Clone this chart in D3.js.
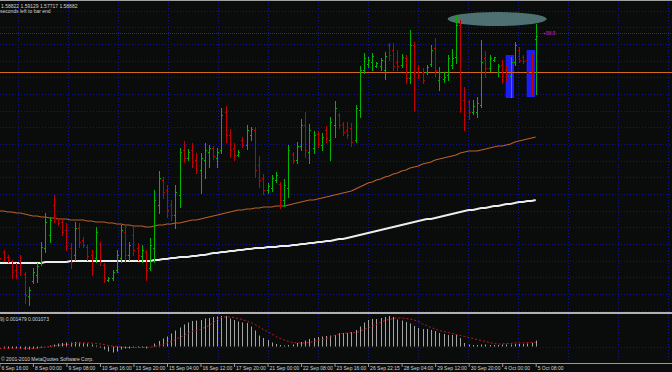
<!DOCTYPE html>
<meta charset="utf-8">
<style>
body { margin: 0; background: #0a0b0b; }
svg { display: block; }
text { font-family: "Liberation Sans", Arial, sans-serif; font-size: 5px; fill: #d4d4d4; }
</style>
<body>
<script src="https://cdn.jsdelivr.net/npm/d3@7/dist/d3.min.js"></script>
<script>

// H4 bars, one entry per bar (oldest first)
var opens = [
  1.5460, 1.5456, 1.5446, 1.5438, 1.5420, 1.5436, 1.5412, 1.5368, 1.5398, 1.5410,
  1.5436, 1.5464, 1.5490, 1.5550, 1.5522, 1.5516, 1.5500, 1.5464, 1.5450, 1.5504,
  1.5480, 1.5466, 1.5450, 1.5444, 1.5472, 1.5430, 1.5400, 1.5404, 1.5420, 1.5444,
  1.5496, 1.5450, 1.5490, 1.5464, 1.5448, 1.5456, 1.5424, 1.5464, 1.5550, 1.5600,
  1.5580, 1.5550, 1.5530, 1.5570, 1.5660, 1.5644, 1.5660, 1.5640, 1.5620, 1.5640,
  1.5656, 1.5664, 1.5644, 1.5660, 1.5736, 1.5690, 1.5664, 1.5650, 1.5680, 1.5670,
  1.5690, 1.5700, 1.5630, 1.5604, 1.5580, 1.5584, 1.5600, 1.5592, 1.5560, 1.5584,
  1.5652, 1.5640, 1.5668, 1.5710, 1.5656, 1.5664, 1.5692, 1.5670, 1.5700, 1.5680,
  1.5710, 1.5730, 1.5712, 1.5700, 1.5704, 1.5680, 1.5740, 1.5820, 1.5832, 1.5836,
  1.5828, 1.5828, 1.5820, 1.5870, 1.5860, 1.5836, 1.5830, 1.5844, 1.5804, 1.5870,
  1.5824, 1.5816, 1.5816, 1.5832, 1.5864, 1.5800, 1.5802, 1.5810, 1.5830, 1.5846,
  1.5910, 1.5760, 1.5756, 1.5736, 1.5736, 1.5750, 1.5844, 1.5824, 1.5840, 1.5816,
  1.5830, 1.5820, 1.5808, 1.5836, 1.5860, 1.5846, 1.5840, 1.5840, 1.58822
];
var highs = [
  1.5464, 1.5460, 1.5450, 1.5440, 1.5434, 1.5450, 1.5416, 1.5386, 1.5424, 1.5434,
  1.5476, 1.5534, 1.5526, 1.5570, 1.5524, 1.5520, 1.5514, 1.5474, 1.5516, 1.5514,
  1.5486, 1.5470, 1.5460, 1.5506, 1.5476, 1.5434, 1.5406, 1.5420, 1.5460, 1.5510,
  1.5510, 1.5476, 1.5506, 1.5474, 1.5470, 1.5460, 1.5484, 1.5580, 1.5618, 1.5606,
  1.5590, 1.5560, 1.5590, 1.5664, 1.5678, 1.5662, 1.5674, 1.5654, 1.5654, 1.5674,
  1.5670, 1.5668, 1.5664, 1.5744, 1.5748, 1.5702, 1.5674, 1.5660, 1.5686, 1.5710,
  1.5706, 1.5706, 1.5648, 1.5612, 1.5594, 1.5610, 1.5616, 1.5596, 1.5602, 1.5670,
  1.5656, 1.5676, 1.5722, 1.5736, 1.5712, 1.5698, 1.5698, 1.5694, 1.5708, 1.5726,
  1.5758, 1.5734, 1.5716, 1.5716, 1.5714, 1.5750, 1.5828, 1.5854, 1.5846, 1.5854,
  1.5836, 1.5844, 1.5856, 1.5874, 1.5874, 1.5860, 1.5852, 1.5850, 1.5900, 1.5876,
  1.5830, 1.5824, 1.5830, 1.5870, 1.5884, 1.5826, 1.5816, 1.5850, 1.5862, 1.5928,
  1.5920, 1.5786, 1.5760, 1.5760, 1.5766, 1.5880, 1.5858, 1.5850, 1.5846, 1.5832,
  1.5840, 1.5830, 1.5846, 1.5876, 1.5866, 1.5850, 1.5846, 1.5854, 1.59129
];
var lows = [
  1.5436, 1.5440, 1.5436, 1.5404, 1.5404, 1.5410, 1.5354, 1.5350, 1.5394, 1.5396,
  1.5430, 1.5456, 1.5476, 1.5516, 1.5510, 1.5490, 1.5460, 1.5424, 1.5440, 1.5466,
  1.5466, 1.5440, 1.5410, 1.5436, 1.5430, 1.5396, 1.5398, 1.5400, 1.5416, 1.5436,
  1.5436, 1.5440, 1.5450, 1.5440, 1.5436, 1.5400, 1.5420, 1.5436, 1.5534, 1.5564,
  1.5526, 1.5520, 1.5504, 1.5546, 1.5636, 1.5640, 1.5626, 1.5614, 1.5574, 1.5604,
  1.5626, 1.5642, 1.5626, 1.5654, 1.5676, 1.5646, 1.5640, 1.5648, 1.5666, 1.5662,
  1.5680, 1.5606, 1.5586, 1.5572, 1.5574, 1.5578, 1.5596, 1.5544, 1.5548, 1.5566,
  1.5634, 1.5634, 1.5660, 1.5646, 1.5634, 1.5654, 1.5666, 1.5660, 1.5676, 1.5640,
  1.5686, 1.5704, 1.5690, 1.5684, 1.5668, 1.5676, 1.5726, 1.5814, 1.5826, 1.5820,
  1.5826, 1.5820, 1.5802, 1.5840, 1.5820, 1.5820, 1.5826, 1.5794, 1.5794, 1.5738,
  1.5804, 1.5794, 1.5812, 1.5828, 1.5808, 1.5780, 1.5796, 1.5800, 1.5824, 1.5834,
  1.5736, 1.5700, 1.5722, 1.5732, 1.5726, 1.5746, 1.5806, 1.5818, 1.5838, 1.5808,
  1.5794, 1.5800, 1.5766, 1.5830, 1.5836, 1.5834, 1.5800, 1.5770, 1.57717
];
var closes = [
  1.5444, 1.5446, 1.5440, 1.5416, 1.5408, 1.5420, 1.5370, 1.5380, 1.5416, 1.5428,
  1.5466, 1.5516, 1.5520, 1.5524, 1.5514, 1.5496, 1.5468, 1.5436, 1.5504, 1.5476,
  1.5470, 1.5448, 1.5420, 1.5496, 1.5436, 1.5404, 1.5404, 1.5416, 1.5450, 1.5500,
  1.5450, 1.5470, 1.5460, 1.5450, 1.5460, 1.5420, 1.5470, 1.5560, 1.5604, 1.5576,
  1.5540, 1.5530, 1.5576, 1.5656, 1.5644, 1.5656, 1.5636, 1.5620, 1.5644, 1.5660,
  1.5664, 1.5648, 1.5656, 1.5730, 1.5690, 1.5660, 1.5650, 1.5656, 1.5670, 1.5700,
  1.5702, 1.5620, 1.5600, 1.5580, 1.5588, 1.5604, 1.5610, 1.5560, 1.5590, 1.5660,
  1.5640, 1.5668, 1.5710, 1.5660, 1.5700, 1.5690, 1.5672, 1.5686, 1.5684, 1.5716,
  1.5744, 1.5710, 1.5696, 1.5690, 1.5676, 1.5744, 1.5820, 1.5844, 1.5840, 1.5848,
  1.5834, 1.5840, 1.5848, 1.5850, 1.5828, 1.5828, 1.5846, 1.5804, 1.5870, 1.5816,
  1.5810, 1.5800, 1.5826, 1.5860, 1.5820, 1.5816, 1.5806, 1.5844, 1.5844, 1.5910,
  1.5744, 1.5730, 1.5736, 1.5748, 1.5754, 1.5836, 1.5824, 1.5844, 1.5846, 1.5828,
  1.5808, 1.5808, 1.5836, 1.5870, 1.5840, 1.5838, 1.5816, 1.5816, 1.58882
];

// moving averages (orange = faster, white = slower)
var maOrange = [
  1.5538, 1.5538, 1.5536, 1.5536, 1.5534, 1.5534, 1.5532, 1.5530, 1.5528, 1.5528,
  1.5526, 1.5526, 1.5524, 1.5524, 1.5522, 1.5522, 1.5522, 1.5520, 1.5520, 1.5520,
  1.5520, 1.5518, 1.5518, 1.5516, 1.5516, 1.5516, 1.5514, 1.5514, 1.5512, 1.5512,
  1.5510, 1.5510, 1.5508, 1.5508, 1.5508, 1.5506, 1.5506, 1.5508, 1.5510, 1.5510,
  1.5512, 1.5512, 1.5514, 1.5514, 1.5516, 1.5518, 1.5520, 1.5520, 1.5522, 1.5524,
  1.5526, 1.5528, 1.5530, 1.5532, 1.5534, 1.5536, 1.5538, 1.5540, 1.5540, 1.5542,
  1.5542, 1.5544, 1.5544, 1.5546, 1.5546, 1.5546, 1.5548, 1.5548, 1.5548, 1.5550,
  1.5552, 1.5554, 1.5556, 1.5558, 1.5560, 1.5560, 1.5562, 1.5564, 1.5566, 1.5568,
  1.5570, 1.5572, 1.5574, 1.5576, 1.5578, 1.5582, 1.5586, 1.5590, 1.5594, 1.5596,
  1.5600, 1.5602, 1.5606, 1.5608, 1.5612, 1.5614, 1.5618, 1.5620, 1.5624, 1.5626,
  1.5628, 1.5632, 1.5634, 1.5636, 1.5640, 1.5642, 1.5644, 1.5646, 1.5648, 1.5650,
  1.5654, 1.5656, 1.5658, 1.5658, 1.5658, 1.5660, 1.5662, 1.5664, 1.5666, 1.5668,
  1.5668, 1.5670, 1.5672, 1.5676, 1.5678, 1.5680, 1.5682, 1.5684, 1.5686
];
var maWhite = [
  1.5434, 1.5434, 1.5434, 1.5434, 1.5434, 1.5434, 1.5434, 1.5434, 1.5434, 1.5434,
  1.5434, 1.5436, 1.5436, 1.5436, 1.5436, 1.5436, 1.5436, 1.5438, 1.5438, 1.5438,
  1.5438, 1.5438, 1.5438, 1.5438, 1.5438, 1.5438, 1.5438, 1.5438, 1.5438, 1.5438,
  1.5438, 1.5438, 1.5438, 1.5438, 1.5438, 1.5438, 1.5438, 1.5440, 1.5440, 1.5442,
  1.5442, 1.5444, 1.5444, 1.5446, 1.5446, 1.5446, 1.5448, 1.5448, 1.5450, 1.5450,
  1.5452, 1.5454, 1.5454, 1.5456, 1.5456, 1.5458, 1.5458, 1.5460, 1.5460, 1.5462,
  1.5462, 1.5464, 1.5464, 1.5464, 1.5466, 1.5466, 1.5466, 1.5468, 1.5468, 1.5468,
  1.5470, 1.5470, 1.5472, 1.5472, 1.5474, 1.5474, 1.5476, 1.5476, 1.5478, 1.5478,
  1.5480, 1.5482, 1.5482, 1.5484, 1.5486, 1.5488, 1.5490, 1.5492, 1.5494, 1.5496,
  1.5498, 1.5500, 1.5502, 1.5504, 1.5506, 1.5508, 1.5510, 1.5512, 1.5514, 1.5516,
  1.5518, 1.5520, 1.5522, 1.5522, 1.5524, 1.5526, 1.5528, 1.5530, 1.5532, 1.5534,
  1.5536, 1.5538, 1.5540, 1.5540, 1.5542, 1.5544, 1.5544, 1.5546, 1.5548, 1.5548,
  1.5550, 1.5552, 1.5552, 1.5554, 1.5556, 1.5556, 1.5558, 1.5558, 1.5560
];

// MACD(12,26,9): main (histogram) and signal (dotted)
var macdMain = [
  -0.00025, -0.00025, -0.00038, -0.0005, -0.0005, -0.00063, -0.00075, -0.00075, -0.00063, -0.0005,
  -0.00025, 0, 0.00025, 0.0005, 0.00075, 0.00088, 0.001, 0.001, 0.00113, 0.001,
  0.00088, 0.00075, 0.0005, 0.00025, -0.00025, -0.00075, -0.00125, -0.0015, -0.00125, -0.00075,
  -0.0005, -0.0005, -0.00025, -0.00025, -0.00025, -0.0005, 0, 0.00075, 0.00138, 0.002,
  0.0025, 0.00325, 0.004, 0.00475, 0.0055, 0.006, 0.00638, 0.0065, 0.00663, 0.007,
  0.00713, 0.00738, 0.0075, 0.00763, 0.00763, 0.007, 0.00663, 0.00625, 0.006, 0.00588,
  0.005, 0.004, 0.00275, 0.00213, 0.00163, 0.001, 0.00063, 0.00038, 0.00025, 0.00038,
  0.0005, 0.00088, 0.00113, 0.0015, 0.00188, 0.00213, 0.00238, 0.0025, 0.00263, 0.00275,
  0.00288, 0.00338, 0.00338, 0.00338, 0.00363, 0.00413, 0.005, 0.006, 0.00663, 0.00688,
  0.00688, 0.00713, 0.00738, 0.00763, 0.00738, 0.00675, 0.0065, 0.00613, 0.00575, 0.00513,
  0.00463, 0.00438, 0.00438, 0.00413, 0.00388, 0.00338, 0.00313, 0.00288, 0.00288, 0.00288,
  0.00213, 0.00088, 0.0005, 0.00038, 0.00038, 0.0005, 0.0005, 0.00038, 0.00038, 0.00038,
  0.0005, 0.0005, 0.0005, 0.00063, 0.00063, 0.00063, 0.00075, 0.00088, 0.001479
];
var macdSignal = [
  -0.0005, -0.0005, -0.0005, -0.0005, -0.0005, -0.0005, -0.0005, -0.0005, -0.0005, -0.00038,
  -0.00025, -0.00013, 0, 0.00013, 0.00025, 0.00038, 0.0005, 0.00063, 0.00075, 0.00088,
  0.00088, 0.00088, 0.00088, 0.00075, 0.00063, 0.0005, 0.00025, 0.00013, 0, -0.00013,
  -0.00025, -0.00025, -0.00025, -0.00025, -0.00025, -0.00025, -0.00013, 0, 0.00025, 0.0005,
  0.00088, 0.00125, 0.00175, 0.00225, 0.00275, 0.00325, 0.00375, 0.004, 0.00425, 0.00475,
  0.00525, 0.006, 0.00675, 0.00725, 0.00738, 0.00738, 0.00725, 0.007, 0.00675, 0.00638,
  0.006, 0.0055, 0.00488, 0.00425, 0.00375, 0.00313, 0.0025, 0.002, 0.00163, 0.00125,
  0.001, 0.00088, 0.00088, 0.00088, 0.001, 0.00125, 0.0015, 0.00175, 0.002, 0.00238,
  0.00275, 0.003, 0.00325, 0.00338, 0.00338, 0.0035, 0.00375, 0.00425, 0.00463, 0.005,
  0.0055, 0.006, 0.0065, 0.00675, 0.007, 0.00713, 0.00713, 0.007, 0.00688, 0.00663,
  0.00625, 0.00563, 0.00525, 0.00475, 0.00438, 0.004, 0.00375, 0.0035, 0.00325, 0.003,
  0.00275, 0.0025, 0.00225, 0.002, 0.00175, 0.0015, 0.00125, 0.001, 0.00075, 0.00063,
  0.00063, 0.00075, 0.00075, 0.00088, 0.00088, 0.00088, 0.001, 0.001, 0.001073
];

// time axis: a label every 8 bars
var timeLabels = ["6 Sep 16:00", "8 Sep 00:00", "9 Sep 08:00", "10 Sep 16:00", "13 Sep 20:00",
  "15 Sep 04:00", "16 Sep 12:00", "17 Sep 20:00", "21 Sep 00:00", "22 Sep 08:00", "23 Sep 16:00",
  "26 Sep 22:15", "28 Sep 04:00", "29 Sep 12:00", "30 Sep 20:00", "4 Oct 00:00", "5 Oct 08:00"];
var labelBars = [0, 8, 16, 24, 32, 40, 48, 56, 64, 72, 80, 88, 96, 104, 112, 120, 128];

// chart objects
var hLinePrice = 1.5816;       // orange horizontal line
var bidPrice = 1.5894;         // blue dotted level
var boxes = [
  { from: 121, to: 123, top: 1.5850, bottom: 1.5764 },
  { from: 126, to: 128, top: 1.5860, bottom: 1.5766 }
];
var ellipse = { from: 107, to: 130.6, top: 1.5936, bottom: 1.5908 };

var width = 672,
    height = 372,
    mainBottom = 311,
    subTop = 315,
    subBottom = 361,
    axisY = 363;

var svg = d3.select("body").append("svg")
    .attr("width", width)
    .attr("height", height);

svg.append("rect")
    .attr("width", width)
    .attr("height", height)
    .attr("fill", "#0a0b0b");

svg.append("clipPath").attr("id", "main")
  .append("rect").attr("width", width).attr("height", mainBottom);

var x = d3.scaleLinear().domain([0, 128]).range([-0.6, 535.7]);
var y = d3.scaleLinear().domain([1.5338, 1.5960]).range([mainBottom, 0]);
var ym = d3.scaleLinear().domain([-0.003625, 0.007875]).range([subBottom, subTop]);

// dotted grid
var grid = svg.append("g")
    .attr("stroke", "#13139a")
    .attr("stroke-dasharray", "1,2");

grid.selectAll(".h").data(d3.range(10.67, mainBottom, 16.667)).join("line")
    .attr("x1", 0).attr("x2", width)
    .attr("y1", d => Math.round(d) + 0.5).attr("y2", d => Math.round(d) + 0.5);

grid.selectAll(".v").data(d3.range(18, width, 50)).join("line")
    .attr("x1", d => d + 0.5).attr("x2", d => d + 0.5)
    .attr("y1", 2).attr("y2", axisY - 1);

grid.append("line")
    .attr("x1", 0).attr("x2", width)
    .attr("y1", Math.round(ym(0)) + 0.5).attr("y2", Math.round(ym(0)) + 0.5);

var main = svg.append("g").attr("clip-path", "url(#main)");

// blue boxes
main.selectAll(".box").data(boxes).join("rect")
    .attr("x", d => x(d.from) - 0.7)
    .attr("width", d => x(d.to) - x(d.from))
    .attr("y", d => y(d.top))
    .attr("height", d => y(d.bottom) - y(d.top))
    .attr("fill", "#1c1cf4");

// ellipse object
main.append("ellipse")
    .attr("cx", (x(ellipse.from) + x(ellipse.to)) / 2)
    .attr("cy", (y(ellipse.top) + y(ellipse.bottom)) / 2)
    .attr("rx", (x(ellipse.to) - x(ellipse.from)) / 2)
    .attr("ry", (y(ellipse.bottom) - y(ellipse.top)) / 2)
    .attr("fill", "#4f7070");

// horizontal levels
main.append("line")
    .attr("x1", 0).attr("x2", width)
    .attr("y1", Math.round(y(hLinePrice)) + 0.5).attr("y2", Math.round(y(hLinePrice)) + 0.5)
    .attr("stroke", "#d2691e");

main.append("line")
    .attr("x1", 0).attr("x2", width)
    .attr("y1", Math.round(y(bidPrice)) + 0.5).attr("y2", Math.round(y(bidPrice)) + 0.5)
    .attr("stroke", "#2222c8")
    .attr("stroke-dasharray", "1,1");

main.append("text")
    .attr("x", 543).attr("y", y(bidPrice) + 2)
    .style("fill", "#c020c0")
    .text("+58.5");

// moving averages
var maLine = d3.line().x((d, i) => x(i)).y(d => y(d));

main.append("path")
    .attr("d", maLine(maOrange))
    .attr("fill", "none")
    .attr("stroke", "#b8602a")
    .attr("stroke-width", 1.2);

main.append("path")
    .attr("d", maLine(maWhite))
    .attr("fill", "none")
    .attr("stroke", "#ececec")
    .attr("stroke-width", 2);

// OHLC bars
main.selectAll(".bar").data(d3.range(opens.length)).join("path")
    .attr("d", function(i) {
      var cx = Math.round(x(i)) + 0.5,
          yo = Math.round(y(opens[i])) + 0.5,
          yc = Math.round(y(closes[i])) + 0.5;
      return "M" + cx + "," + Math.round(y(highs[i])) + "V" + (Math.round(y(lows[i])) + 1) +
             "M" + (cx - 1.5) + "," + yo + "H" + cx +
             "M" + cx + "," + yc + "H" + (cx + 1.5);
    })
    .attr("fill", "none")
    .attr("stroke", i => closes[i] >= opens[i] ? "#00b400" : "#c40000");

// window frame and separator
svg.append("line")
    .attr("x1", 0).attr("x2", width).attr("y1", 0.5).attr("y2", 0.5)
    .attr("stroke", "#a0a0a0");

svg.append("rect")
    .attr("x", 0).attr("y", 312).attr("width", width).attr("height", 2)
    .attr("fill", "#b0b0b0");

// MACD histogram and signal
svg.append("g").selectAll("line").data(macdMain).join("line")
    .attr("x1", (d, i) => Math.round(x(i)) + 0.5)
    .attr("x2", (d, i) => Math.round(x(i)) + 0.5)
    .attr("y1", ym(0))
    .attr("y2", d => ym(d))
    .attr("stroke", "#a4a4a4");

svg.append("path")
    .attr("d", d3.line().x((d, i) => x(i)).y(d => ym(d))(macdSignal))
    .attr("fill", "none")
    .attr("stroke", "#c81818")
    .attr("stroke-dasharray", "2,2");

// texts
svg.append("text").attr("x", 1).attr("y", 7.5)
    .text(opens[128].toFixed(5) + " " + highs[128].toFixed(5) + " " + lows[128].toFixed(5) + " " + closes[128].toFixed(5));
svg.append("text").attr("x", 0).attr("y", 13).text("seconds left to bar end");

svg.append("text").attr("x", 0).attr("y", 320.5)
    .text("9) " + macdMain[128].toFixed(6) + " " + macdSignal[128].toFixed(6));

svg.append("text").attr("x", 1).attr("y", 360.5)
    .text("\u00a9 2001-2010 MetaQuotes Software Corp.");

// time axis
svg.append("line")
    .attr("x1", 0).attr("x2", width).attr("y1", axisY + 0.5).attr("y2", axisY + 0.5)
    .attr("stroke", "#9a9a9a");

var axis = svg.append("g")
    .attr("transform", "translate(0," + (axisY + 1) + ")")
    .call(d3.axisBottom(x)
      .tickValues(labelBars)
      .tickFormat((d, i) => timeLabels[i])
      .tickSize(3));

axis.select(".domain").remove();
axis.selectAll(".tick line").attr("stroke", "#9a9a9a");
axis.selectAll(".tick text")
    .attr("y", 5.5)
    .attr("dy", 0)
    .attr("dx", 1.5)
    .attr("text-anchor", "start")
    .attr("font-family", null)
    .attr("font-size", null)
    .attr("fill", null);

</script>
